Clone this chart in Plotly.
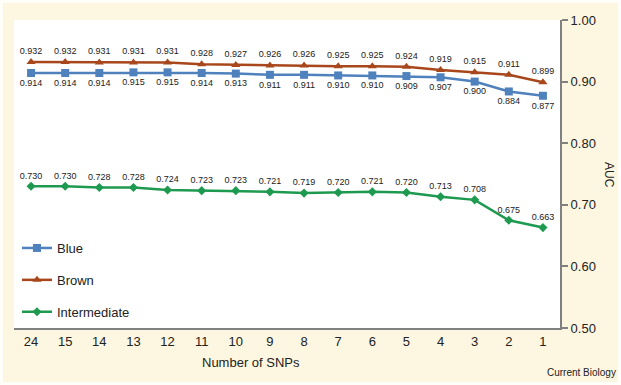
import plotly.graph_objects as go

categories = ["24", "15", "14", "13", "12", "11", "10", "9", "8", "7", "6", "5", "4", "3", "2", "1"]
blue = [0.914, 0.914, 0.914, 0.915, 0.915, 0.914, 0.913, 0.911, 0.911, 0.910, 0.910, 0.909, 0.907, 0.900, 0.884, 0.877]
brown = [0.932, 0.932, 0.931, 0.931, 0.931, 0.928, 0.927, 0.926, 0.926, 0.925, 0.925, 0.924, 0.919, 0.915, 0.911, 0.899]
intermediate = [0.730, 0.730, 0.728, 0.728, 0.724, 0.723, 0.723, 0.721, 0.719, 0.720, 0.721, 0.720, 0.713, 0.708, 0.675, 0.663]
y_ticks = [0.5, 0.6, 0.7, 0.8, 0.9, 1.0]

FONT = "Liberation Sans, Arial, sans-serif"
BG = "#FDF7E1"

def series(name, vals, color, symbol, size, pos, group):
    return go.Scatter(
        x=categories, y=vals, name=name, mode="lines+markers+text",
        line=dict(color=color, width=2.5),
        marker=dict(color=color, symbol=symbol, size=size),
        text=[f"{v:.3f}" for v in vals], textposition=pos,
        textfont=dict(size=9, color="#222222", family=FONT),
        legendgroup=group,
    )

fig = go.Figure()
fig.add_trace(series("Blue", blue, "#4F81BD", "square", 8, "bottom center", "a"))
fig.add_trace(series("Brown", brown, "#A8471C", "triangle-up", 8, "top center", "b"))
fig.add_trace(series("Intermediate", intermediate, "#1E9A50", "diamond", 7, "top center", "c"))

W, H = 621, 385
L, R, T, B = 14, 61, 20, 57
pw, ph = W - L - R, H - T - B

def px(x):
    return (x - L) / pw

def py(y):
    return (H - B - y) / ph

fig.update_layout(
    width=W, height=H,
    margin=dict(l=L, r=R, t=T, b=B, autoexpand=False),
    paper_bgcolor=BG, plot_bgcolor="white",
    font=dict(family=FONT, color="#222222", size=13),
    showlegend=True,
    legend=dict(x=px(17), y=py(233), xanchor="left", yanchor="top",
                bgcolor="rgba(0,0,0,0)", font=dict(size=13, color="#222222"),
                traceorder="grouped", tracegroupgap=12, itemwidth=30),
    xaxis=dict(type="category", range=[-0.5, 15.5], showline=True, linecolor="#808080",
               linewidth=2, ticks="", showgrid=False, zeroline=False,
               tickfont=dict(size=13, color="#222222")),
    yaxis=dict(side="right", range=[0.5, 1.0], tickvals=y_ticks, tickformat=".2f",
               showline=True, linecolor="#808080", linewidth=2, ticks="outside",
               ticklen=6, tickcolor="#808080", tickwidth=1.5, showgrid=False, zeroline=False,
               tickfont=dict(size=13, color="#222222")),
    annotations=[
        dict(text="Number of SNPs", x=px(251), y=py(363), xref="paper", yref="paper",
             xanchor="center", yanchor="middle",
             showarrow=False, font=dict(size=13, color="#222222")),
        dict(text="AUC", x=px(609), y=py(175), xref="paper", yref="paper",
             xanchor="center", yanchor="middle",
             showarrow=False, textangle=90, font=dict(size=12, color="#222222")),
        dict(text="Current Biology", x=px(618), y=py(372), xref="paper", yref="paper",
             xanchor="right", yanchor="middle", showarrow=False,
             font=dict(size=10, color="#222222")),
    ],
    shapes=[
        dict(type="rect", xref="paper", yref="paper", x0=px(0), x1=px(W), y0=py(H), y1=py(0),
             line=dict(color="#FFFEF8", width=6), layer="below"),
    ],
)

fig.write_html("out.html", config={"displayModeBar": False},
               post_script="document.body.style.margin='0px';")
